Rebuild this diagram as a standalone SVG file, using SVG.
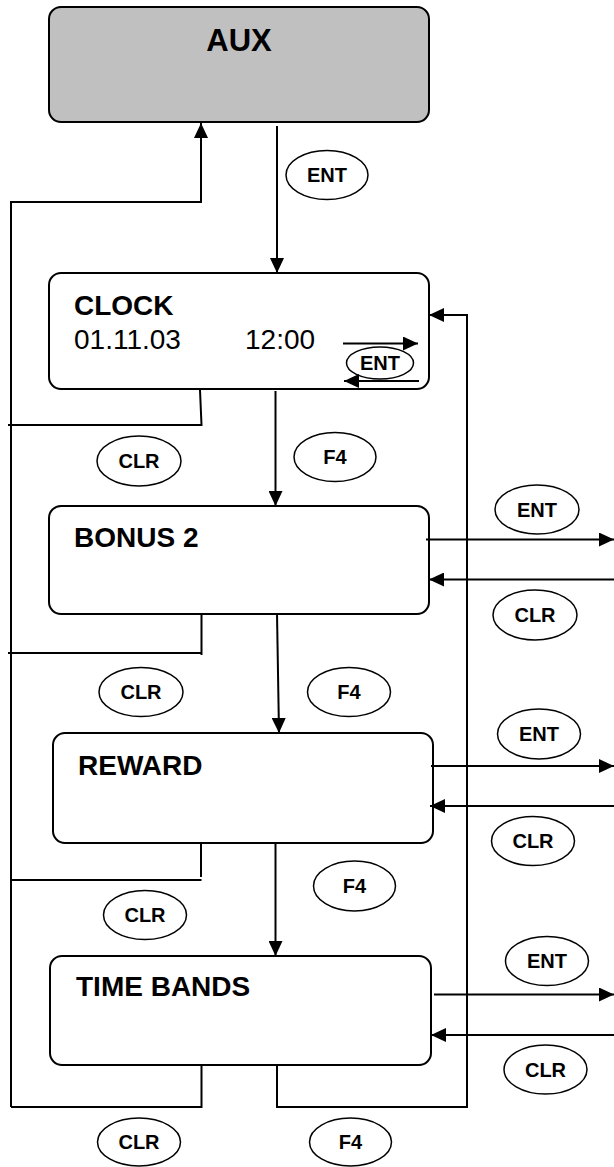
<svg xmlns="http://www.w3.org/2000/svg" width="614" height="1167" viewBox="0 0 614 1167">
<defs>
<marker id="ah" viewBox="0 0 15 14" refX="15" refY="7" markerWidth="15" markerHeight="14" orient="auto" markerUnits="userSpaceOnUse">
<path d="M0,0 L15,7 L0,14 z" fill="#000"/>
</marker>
</defs>
<style>
.box{fill:#fff;stroke:#000;stroke-width:2}
.aux{fill:#c0c0c0;stroke:#000;stroke-width:2}
.title{font-family:"Liberation Sans",Arial,sans-serif;font-weight:bold;font-size:28px;fill:#000}
.val{font-family:"Liberation Sans",Arial,sans-serif;font-size:28px;fill:#000}
.key{fill:#fff;stroke:#000;stroke-width:1.5}
.kt{font-family:"Liberation Sans",Arial,sans-serif;font-weight:bold;font-size:20px;fill:#000;text-anchor:middle}
.ln{fill:none;stroke:#000;stroke-width:2}
.ar{fill:none;stroke:#000;stroke-width:2;marker-end:url(#ah)}
</style>
<rect width="614" height="1167" fill="#fff"/>

<g id="aux">
<rect class="aux" x="49" y="7" width="380" height="115" rx="12"/>
<text class="title" x="239" y="51" text-anchor="middle" style="font-size:31px">AUX</text>
</g>

<g id="clock">
<rect class="box" x="49" y="273" width="380" height="116" rx="12"/>
<text class="title" x="74" y="315">CLOCK</text>
<text class="val" x="74" y="349">01.11.03</text>
<text class="val" x="245" y="349">12:00</text>
</g>

<g id="bonus2">
<rect class="box" x="49" y="506" width="380" height="108" rx="12"/>
<text class="title" x="74" y="547">BONUS 2</text>
</g>

<g id="reward">
<rect class="box" x="53" y="733" width="380" height="110" rx="12"/>
<text class="title" x="78" y="775">REWARD</text>
</g>

<g id="timebands">
<rect class="box" x="50" y="956" width="381" height="109" rx="12"/>
<text class="title" x="76" y="996">TIME BANDS</text>
</g>

<g id="connectors">
<!-- AUX -> CLOCK -->
<line class="ar" x1="277" y1="126" x2="277" y2="273"/>
<!-- return to AUX -->
<path class="ar" d="M11,1107 L11,202 L201,202 L201,123"/>
<!-- CLOCK CLR -->
<path class="ln" d="M200,390 L201.5,425 L8,425"/>
<!-- CLOCK F4 -->
<line class="ar" x1="275.5" y1="391" x2="275.5" y2="506"/>
<!-- CLOCK internal ENT -->
<line class="ar" x1="343" y1="343.5" x2="418" y2="343.5"/>
<line class="ar" x1="419" y1="381" x2="344" y2="381"/>
<!-- right loop back to CLOCK -->
<path class="ar" d="M277,1066 L277,1107 L467,1107 L467,315 L429,315"/>
<!-- BONUS 2 -->
<line class="ar" x1="426" y1="539.5" x2="614" y2="539.5"/>
<line class="ar" x1="614" y1="579.5" x2="429" y2="579.5"/>
<path class="ln" d="M201.5,615 L201.5,655 M8,653 L201.5,653"/>
<line class="ar" x1="277" y1="613" x2="279" y2="733"/>
<!-- REWARD -->
<line class="ar" x1="431" y1="766" x2="614" y2="766"/>
<line class="ar" x1="614" y1="806" x2="430" y2="806"/>
<path class="ln" d="M201,844 L201,877 M11,880 L201.5,880"/>
<line class="ar" x1="275.5" y1="844" x2="275.5" y2="956"/>
<!-- TIME BANDS -->
<line class="ar" x1="434" y1="994.5" x2="614" y2="994.5"/>
<line class="ar" x1="614" y1="1035" x2="431" y2="1035"/>
<path class="ln" d="M201.5,1066 L201.5,1107 L11,1107"/>
</g>

<g id="keys">
<ellipse class="key" cx="327" cy="175" rx="41" ry="24.5"/><text class="kt" x="327" y="182">ENT</text>
<ellipse class="key" cx="380" cy="363" rx="33.5" ry="16" style="fill:none"/><text class="kt" x="380" y="370">ENT</text>
<ellipse class="key" cx="139" cy="461" rx="42" ry="25"/><text class="kt" x="139" y="468">CLR</text>
<ellipse class="key" cx="335" cy="457" rx="41" ry="24.5"/><text class="kt" x="335" y="464">F4</text>
<ellipse class="key" cx="537" cy="509.5" rx="42" ry="24.5"/><text class="kt" x="537" y="516.5">ENT</text>
<ellipse class="key" cx="535" cy="615" rx="42" ry="25"/><text class="kt" x="535" y="622">CLR</text>
<ellipse class="key" cx="141" cy="692" rx="42" ry="24.5"/><text class="kt" x="141" y="699">CLR</text>
<ellipse class="key" cx="349" cy="692" rx="41.5" ry="24.5"/><text class="kt" x="349" y="699">F4</text>
<ellipse class="key" cx="539" cy="734" rx="41.5" ry="25"/><text class="kt" x="539" y="741">ENT</text>
<ellipse class="key" cx="533" cy="841" rx="41.5" ry="24.5"/><text class="kt" x="533" y="848">CLR</text>
<ellipse class="key" cx="354.5" cy="886" rx="41" ry="25"/><text class="kt" x="354.5" y="893">F4</text>
<ellipse class="key" cx="145" cy="915" rx="41.5" ry="24.5"/><text class="kt" x="145" y="922">CLR</text>
<ellipse class="key" cx="547" cy="961" rx="41.5" ry="24.5"/><text class="kt" x="547" y="968">ENT</text>
<ellipse class="key" cx="545.5" cy="1069.5" rx="41.5" ry="24.5"/><text class="kt" x="545.5" y="1076.5">CLR</text>
<ellipse class="key" cx="139" cy="1142" rx="41.5" ry="24"/><text class="kt" x="139" y="1149">CLR</text>
<ellipse class="key" cx="350.5" cy="1142" rx="41" ry="24"/><text class="kt" x="350.5" y="1149">F4</text>
</g>
</svg>
